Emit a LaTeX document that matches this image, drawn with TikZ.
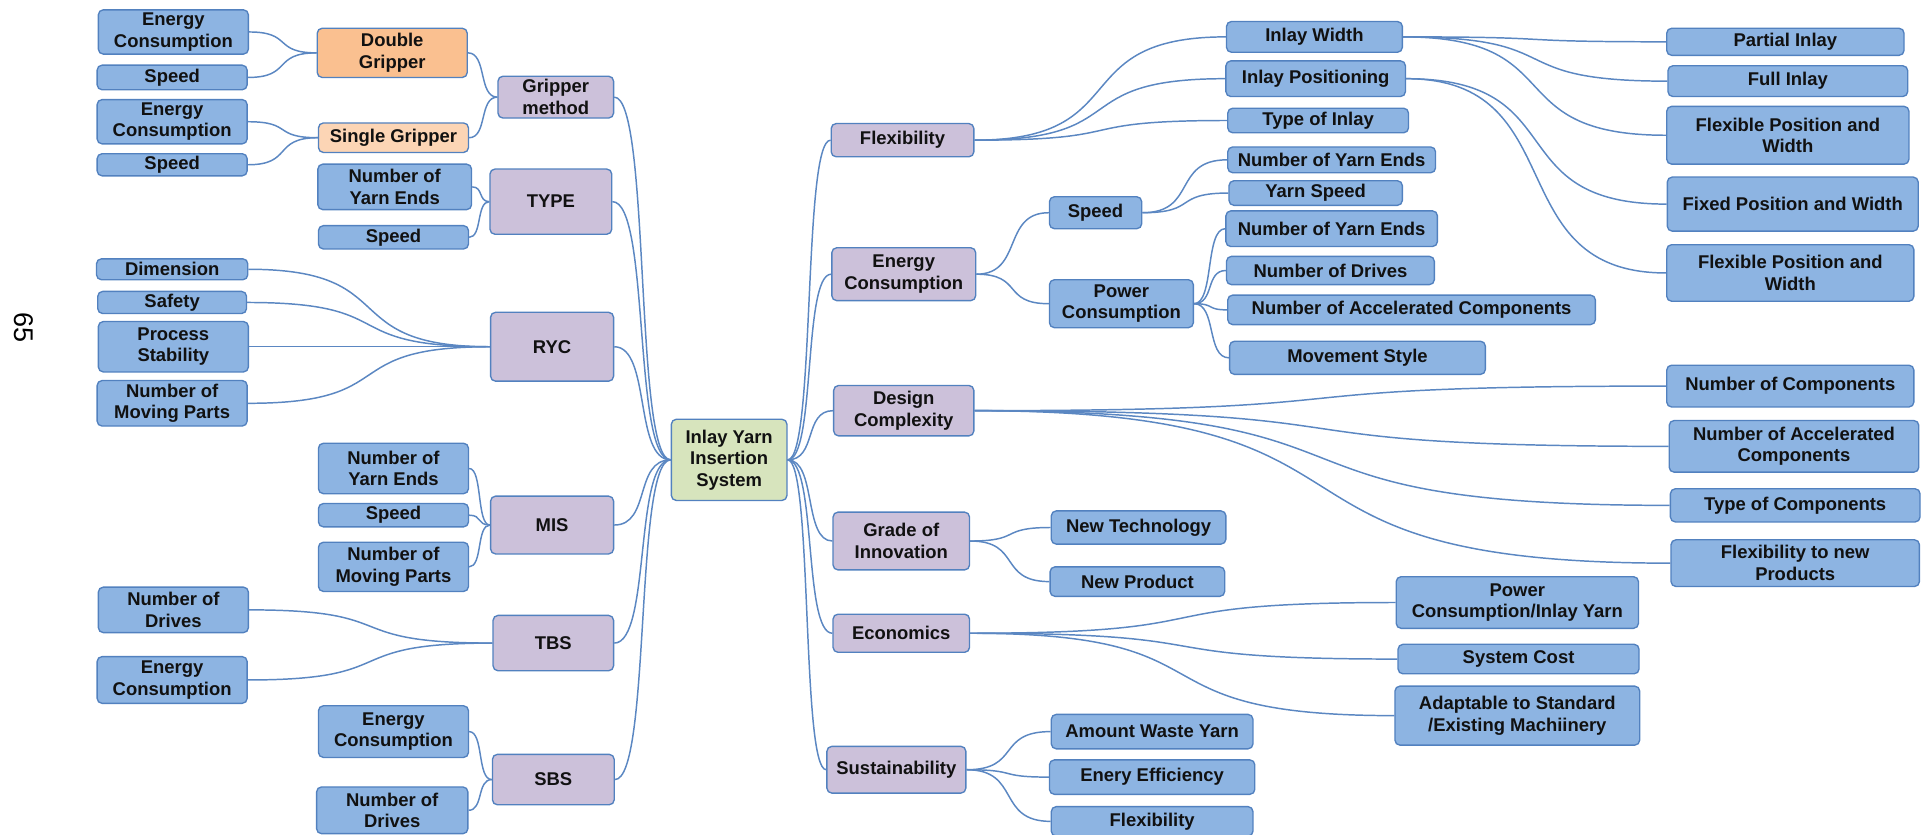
\documentclass[tikz,border=0pt]{standalone}
\usepackage{fontspec}
\setmainfont{Liberation Sans}
\usetikzlibrary{calc}
\definecolor{leafc}{HTML}{8DB4E2}
\definecolor{catc}{HTML}{CCC1DA}
\definecolor{rootc}{HTML}{D7E4BD}
\definecolor{dgc}{HTML}{FAC090}
\definecolor{sgc}{HTML}{FCD5B5}
\definecolor{edgec}{HTML}{5281BF}
\definecolor{linec}{HTML}{5B87C2}
\definecolor{txtc}{HTML}{111111}
\newcommand\bx[7]{\node[#6, minimum width=#4pt, minimum height=#5pt] (#1) at (#2,-#3) {#7};}
\newcommand\mmR[2]{\draw[conn] let \p1=(#1.east), \p2=(#2.west) in (\p1) .. controls ({\x1+0.65*(\x2-\x1)},\y1) and ({\x2-0.65*(\x2-\x1)},\y2) .. (\p2);}
\newcommand\mmL[2]{\draw[conn] let \p1=(#1.west), \p2=(#2.east) in (\p1) .. controls ({\x1+0.65*(\x2-\x1)},\y1) and ({\x2-0.65*(\x2-\x1)},\y2) .. (\p2);}
\tikzset{
  box/.style={rounded corners=4pt, draw=edgec, line width=1.1pt, align=center, inner sep=0pt, text=txtc, font=\bfseries\fontsize{15}{17.5}\selectfont},
  leaf/.style={box, fill=leafc},
  cat/.style={box, fill=catc},
  rootbox/.style={box, fill=rootc},
  dgbox/.style={box, fill=dgc},
  sgbox/.style={box, fill=sgc},
  conn/.style={draw=linec, line width=1.2pt}
}
\begin{document}
\begin{tikzpicture}[x=1pt,y=1pt]
\useasboundingbox (0,0) rectangle (1568,-679);
\node[rotate=-90, font=\fontsize{22}{24}\selectfont, text=black] (pg) at (19,-266) {65};
% root
\bx{root}{593}{374}{94}{66}{rootbox}{Inlay Yarn\\Insertion\\System}
% left level 1
\bx{gm}{452}{79}{94}{34}{cat}{Gripper\\method}
\bx{type}{448}{164}{99}{53}{cat}{TYPE}
\bx{ryc}{449}{282}{100}{56}{cat}{RYC}
\bx{mis}{449}{427}{100}{47}{cat}{MIS}
\bx{tbs}{450}{523}{98}{45}{cat}{TBS}
\bx{sbs}{450}{634}{99}{41}{cat}{SBS}
% left level 2
\bx{dg}{319}{43}{122}{40}{dgbox}{Double\\Gripper}
\bx{sg}{320}{112}{122}{24}{sgbox}{Single Gripper}
\bx{ec1}{141}{26}{122}{36}{leaf}{Energy\\Consumption}
\bx{sp1}{140}{63}{122}{20}{leaf}{Speed}
\bx{ec2}{140}{99}{122}{36}{leaf}{Energy\\Consumption}
\bx{sp2}{140}{134}{122}{18}{leaf}{Speed}
\bx{nye1}{321}{152}{125}{37}{leaf}{Number of\\Yarn Ends}
\bx{sp3}{320}{193}{122}{19}{leaf}{Speed}
\bx{dim}{140}{219}{123}{17}{leaf}{Dimension}
\bx{saf}{140}{246}{121}{18}{leaf}{Safety}
\bx{ps}{141}{282}{122}{41}{leaf}{Process\\Stability}
\bx{nmp1}{140}{328}{122}{37}{leaf}{Number of\\Moving Parts}
\bx{nye2}{320}{381}{122}{41}{leaf}{Number of\\Yarn Ends}
\bx{sp4}{320}{419}{122}{19}{leaf}{Speed}
\bx{nmp2}{320}{461}{122}{40}{leaf}{Number of\\Moving Parts}
\bx{nd1}{141}{496}{122}{37}{leaf}{Number of\\Drives}
\bx{ec3}{140}{553}{122}{38}{leaf}{Energy\\Consumption}
\bx{ec4}{320}{595}{122}{42}{leaf}{Energy\\Consumption}
\bx{nd2}{319}{659}{123}{38}{leaf}{Number of\\Drives}
% right level 1
\bx{flex}{734}{114}{116}{27}{cat}{Flexibility}
\bx{enc}{735}{223}{117}{43}{cat}{Energy\\Consumption}
\bx{dc}{735}{334}{114}{41}{cat}{Design\\Complexity}
\bx{goi}{733}{440}{111}{47}{cat}{Grade of\\Innovation}
\bx{eco}{733}{515}{111}{31}{cat}{Economics}
\bx{sus}{729}{626}{113}{38}{cat}{Sustainability}
% right level 2
\bx{iw}{1069}{30}{143}{25}{leaf}{Inlay Width}
\bx{ip}{1070}{64}{146}{29}{leaf}{Inlay Positioning}
\bx{toi}{1072}{98}{147}{20}{leaf}{Type of Inlay}
\bx{spd}{891}{173}{75}{26}{leaf}{Speed}
\bx{nyeA}{1083}{130}{169}{21}{leaf}{Number of Yarn Ends}
\bx{ys}{1070}{157}{141}{20}{leaf}{Yarn Speed}
\bx{pc}{912}{247}{117}{39}{leaf}{Power\\Consumption}
\bx{nyeB}{1083}{186}{172}{29}{leaf}{Number of Yarn Ends}
\bx{nd}{1082}{220}{169}{23}{leaf}{Number of Drives}
\bx{nac}{1148}{252}{299}{24}{leaf}{Number of Accelerated Components}
\bx{ms}{1104}{291}{208}{27}{leaf}{Movement Style}
\bx{pi}{1452}{34}{193}{22}{leaf}{Partial Inlay}
\bx{fi}{1454}{66}{195}{25}{leaf}{Full Inlay}
\bx{fpw1}{1454}{110}{197}{47}{leaf}{Flexible Position and\\Width}
\bx{fxpw}{1458}{166}{204}{44}{leaf}{Fixed Position and Width}
\bx{fpw2}{1456}{222}{201}{46}{leaf}{Flexible Position and\\Width}
\bx{ncmp}{1456}{314}{201}{34}{leaf}{Number of Components}
\bx{nacc}{1459}{363}{203}{42}{leaf}{Number of Accelerated\\Components}
\bx{toc}{1460}{411}{203}{27}{leaf}{Type of Components}
\bx{fnp}{1460}{458}{202}{38}{leaf}{Flexibility to new\\Products}
\bx{nt}{926}{429}{142}{27}{leaf}{New Technology}
\bx{np}{925}{473}{142}{24}{leaf}{New Product}
\bx{pciy}{1234}{490}{197}{42}{leaf}{Power\\Consumption/Inlay Yarn}
\bx{scost}{1235}{536}{196}{24}{leaf}{System Cost}
\bx{adapt}{1234}{582}{199}{48}{leaf}{Adaptable to Standard\\/Existing Machiinery}
\bx{awy}{937}{595}{164}{28}{leaf}{Amount Waste Yarn}
\bx{ee}{937}{632}{167}{28}{leaf}{Enery Efficiency}
\bx{flx2}{937}{668}{164}{24}{leaf}{Flexibility}
% connectors left
\mmL{root}{gm} \mmL{root}{type} \mmL{root}{ryc} \mmL{root}{mis} \mmL{root}{tbs} \mmL{root}{sbs}
\mmL{gm}{dg} \mmL{gm}{sg}
\mmL{dg}{ec1} \mmL{dg}{sp1} \mmL{sg}{ec2} \mmL{sg}{sp2}
\mmL{type}{nye1} \mmL{type}{sp3}
\mmL{ryc}{dim} \mmL{ryc}{saf} \mmL{ryc}{ps} \mmL{ryc}{nmp1}
\mmL{mis}{nye2} \mmL{mis}{sp4} \mmL{mis}{nmp2}
\mmL{tbs}{nd1} \mmL{tbs}{ec3}
\mmL{sbs}{ec4} \mmL{sbs}{nd2}
% connectors right
\mmR{root}{flex} \mmR{root}{enc} \mmR{root}{dc} \mmR{root}{goi} \mmR{root}{eco} \mmR{root}{sus}
\mmR{flex}{iw} \mmR{flex}{ip} \mmR{flex}{toi}
\mmR{iw}{pi} \mmR{iw}{fi} \mmR{iw}{fpw1}
\mmR{ip}{fxpw} \mmR{ip}{fpw2}
\mmR{enc}{spd} \mmR{enc}{pc}
\mmR{spd}{nyeA} \mmR{spd}{ys}
\mmR{pc}{nyeB} \mmR{pc}{nd} \mmR{pc}{nac} \mmR{pc}{ms}
\mmR{dc}{ncmp} \mmR{dc}{nacc} \mmR{dc}{toc} \mmR{dc}{fnp}
\mmR{goi}{nt} \mmR{goi}{np}
\mmR{eco}{pciy} \mmR{eco}{scost} \mmR{eco}{adapt}
\mmR{sus}{awy} \mmR{sus}{ee} \mmR{sus}{flx2}
\end{tikzpicture}
\end{document}
